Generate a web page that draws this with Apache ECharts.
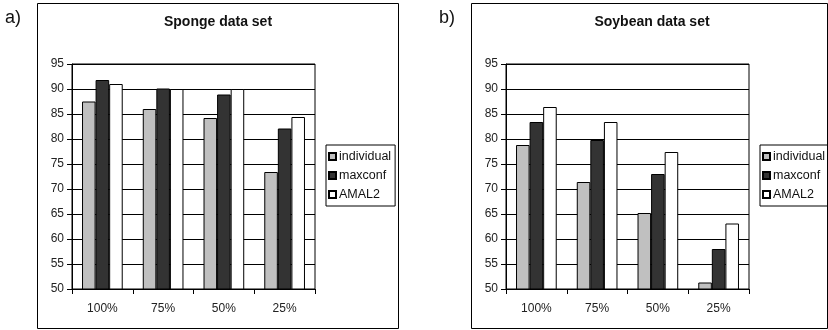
<!DOCTYPE html>
<html>
<head>
<meta charset="utf-8">
<script src="https://cdn.jsdelivr.net/npm/echarts@6/dist/echarts.min.js"></script>
<style>
  html, body { margin: 0; padding: 0; background: #fff; }
  #chart { width: 828px; height: 330px; }
</style>
</head>
<body>
<div id="chart"></div>
<script>
// Training-set fractions on the x axis
const categories = ['100%', '75%', '50%', '25%'];
const seriesNames = ['individual', 'maxconf', 'AMAL2'];
const yTicks = { min: 50, max: 95, step: 5 };

// Accuracy (%) on the Sponge data set
const spongeIndividual = [87.5, 86.0, 84.2, 73.4];
const spongeMaxconf = [91.8, 90.1, 88.9, 82.1];
const spongeAmal2 = [91.0, 90.0, 90.0, 84.4];

// Accuracy (%) on the Soybean data set
const soyIndividual = [78.8, 71.4, 65.2, 51.3];
const soyMaxconf = [83.4, 79.8, 73.0, 58.0];
const soyAmal2 = [86.4, 83.4, 77.4, 63.1];

const panelTitles = ['Sponge data set', 'Soybean data set'];
const panelTags = ['a)', 'b)'];

const FONT = "'Liberation Sans', Arial, Helvetica, sans-serif";
const fills = ['#c0c0c0', '#333333', '#ffffff'];

const panels = [
  { left: 72, frameX: 37.5, frameW: 361, tagX: 0, legendX: 326, values: [spongeIndividual, spongeMaxconf, spongeAmal2] },
  { left: 506, frameX: 471.5, frameW: 356, tagX: 434, legendX: 760, values: [soyIndividual, soyMaxconf, soyAmal2] }
];

const grids = [], xAxes = [], yAxes = [], series = [], titles = [], legends = [], graphics = [];

panels.forEach((p, i) => {
  grids.push({
    left: p.left, top: 64, width: 243, height: 225,
    show: true, borderColor: '#000', borderWidth: 1, backgroundColor: 'transparent'
  });
  xAxes.push({
    type: 'category', gridIndex: i, data: categories,
    axisLine: { lineStyle: { color: '#000', width: 1 } },
    axisTick: { show: true, length: 5, lineStyle: { color: '#000' } },
    axisLabel: { color: '#222', fontFamily: FONT, fontSize: 12, margin: 14 },
    splitLine: { show: false }
  });
  yAxes.push({
    type: 'value', gridIndex: i, min: yTicks.min, max: yTicks.max, interval: yTicks.step,
    axisLine: { show: true, lineStyle: { color: '#000', width: 1 } },
    axisTick: { show: true, length: 5, lineStyle: { color: '#000' } },
    axisLabel: { color: '#222', fontFamily: FONT, fontSize: 12, margin: 8 },
    splitLine: { show: true, lineStyle: { color: '#000', width: 1 } }
  });
  seriesNames.forEach((name, k) => {
    series.push({
      type: 'bar', name: name, xAxisIndex: i, yAxisIndex: i,
      data: p.values[k],
      barGap: '0%', barCategoryGap: '33%',
      itemStyle: { color: fills[k], borderColor: '#000', borderWidth: 1 },
      emphasis: { disabled: true },
      animation: false
    });
  });
  titles.push({
    text: panelTitles[i],
    left: p.left + 141, top: 10, textAlign: 'center',
    textStyle: { fontFamily: FONT, fontSize: 14, fontWeight: 'bold', color: '#111' }
  });
  titles.push({
    text: panelTags[i], left: p.tagX, top: 4,
    textStyle: { fontFamily: FONT, fontSize: 18, fontWeight: 'normal', color: '#111' }
  });
  legends.push({
    data: seriesNames, orient: 'vertical', left: p.legendX, top: 145,
    borderColor: '#000', borderWidth: 1, padding: [5, 4, 5, 2],
    itemWidth: 7, itemHeight: 7, itemGap: 6,
    icon: 'rect', selectedMode: false,
    textStyle: { fontFamily: FONT, fontSize: 12.5, color: '#111', padding: [0, 0, 0, -2] }
  });
  graphics.push({
    type: 'rect', silent: true,
    shape: { x: p.frameX, y: 3.5, width: p.frameW, height: 325 },
    style: { fill: null, stroke: '#000', lineWidth: 1 }
  });
});

const chart = echarts.init(document.getElementById('chart'), null, { renderer: 'canvas' });
chart.setOption({
  backgroundColor: '#fff',
  animation: false,
  title: titles,
  legend: legends,
  grid: grids,
  xAxis: xAxes,
  yAxis: yAxes,
  series: series,
  graphic: graphics
});
</script>
</body>
</html>
